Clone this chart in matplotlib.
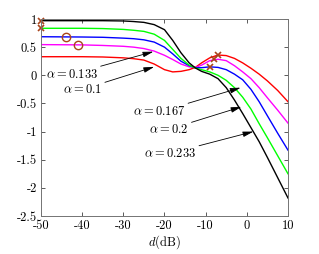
import numpy as np
import matplotlib
matplotlib.use('Agg')
import matplotlib.pyplot as plt

plt.rcParams['font.family'] = 'serif'
plt.rcParams['font.serif'] = ['cmr10']
plt.rcParams['mathtext.fontset'] = 'cm'
plt.rcParams['axes.unicode_minus'] = False
plt.rcParams['axes.formatter.use_mathtext'] = True

# values
d = [-50, -40, -35, -30, -27.5, -25, -22.5, -20, -18, -16, -14, -12.5, -11, -9, -7, -5, -3, -1, 1, 3, 5, 7.5, 10]
alpha_labels = ['0.1', '0.133', '0.167', '0.2', '0.233']
curve_red = [0.33, 0.33, 0.325, 0.31, 0.295, 0.27, 0.20, 0.10, 0.06, 0.07, 0.10, 0.14, 0.22, 0.31, 0.36, 0.35, 0.30, 0.22, 0.125, 0.02, -0.10, -0.27, -0.47]
curve_magenta = [0.545, 0.54, 0.53, 0.515, 0.50, 0.475, 0.43, 0.355, 0.28, 0.20, 0.15, 0.14, 0.18, 0.26, 0.285, 0.26, 0.17, 0.06, -0.06, -0.22, -0.40, -0.62, -0.85]
curve_blue = [0.685, 0.68, 0.675, 0.66, 0.65, 0.63, 0.59, 0.50, 0.38, 0.25, 0.17, 0.135, 0.135, 0.15, 0.14, 0.10, 0.02, -0.08, -0.25, -0.47, -0.72, -1.03, -1.33]
curve_green = [0.835, 0.835, 0.83, 0.815, 0.80, 0.78, 0.73, 0.62, 0.46, 0.30, 0.18, 0.13, 0.10, 0.06, 0.0, -0.09, -0.22, -0.39, -0.60, -0.86, -1.11, -1.43, -1.75]
curve_black = [0.97, 0.97, 0.97, 0.965, 0.955, 0.94, 0.90, 0.81, 0.62, 0.40, 0.22, 0.13, 0.07, 0.02, -0.06, -0.22, -0.44, -0.68, -0.93, -1.18, -1.46, -1.82, -2.18]

cross_x = [-50, -50, -6.9, -7.9, -9.0]
cross_y = [0.97, 0.835, 0.36, 0.285, 0.15]
circle_x = [-44, -41]
circle_y = [0.685, 0.545]

# text positions and arrow tips
label_pos = [(-39.9, -0.25), (-42.5, 0.02), (-21.3, -0.65), (-18.9, -0.96), (-18.6, -1.385)]
arrow_tip = [(-22.5, 0.15), (-22.7, 0.42), (-1.5, -0.22), (-1.3, -0.56), (1.6, -1.0)]

fig = plt.figure(figsize=(3.19, 2.54), dpi=100)
ax = fig.add_axes([0.1285, 0.1496, 0.9028 - 0.1285, 0.9252 - 0.1496])

ax.plot(d, curve_red, color='#ff0000', lw=1.0)
ax.plot(d, curve_magenta, color='#ff00ff', lw=1.0)
ax.plot(d, curve_blue, color='#0000ff', lw=1.0)
ax.plot(d, curve_green, color='#00ff00', lw=1.0)
ax.plot(d, curve_black, color='k', lw=1.0)

mk = '#a8441c'
ax.plot(cross_x, cross_y, 'x', color=mk, ms=5, mew=1.2, clip_on=False)
ax.plot(circle_x, circle_y, 'o', mfc='none', mec=mk, ms=6, mew=1.0)

for lab, pos, tip in zip(alpha_labels, label_pos, arrow_tip):
    ax.annotate(r'$\alpha = %s$' % lab, xy=tip, xytext=pos, fontsize=9,
                ha='center', va='center',
                arrowprops=dict(arrowstyle='-|>,head_length=0.7,head_width=0.18',
                                color='k', lw=0.6, shrinkA=0, shrinkB=0))

ax.set_xlim(-50, 10)
ax.set_ylim(-2.5, 1)
ax.set_xticks([-50, -40, -30, -20, -10, 0, 10])
ax.set_yticks([-2.5, -2, -1.5, -1, -0.5, 0, 0.5, 1])
ax.set_xticklabels(['-50', '-40', '-30', '-20', '-10', '0', '10'])
ax.set_yticklabels(['-2.5', '-2', '-1.5', '-1', '-0.5', '0', '0.5', '1'])
ax.tick_params(direction='in', top=True, right=True, length=3, width=0.6,
               labelsize=9, colors='0.25', labelcolor='k', pad=3)
for s in ax.spines.values():
    s.set_color('0.45')
    s.set_linewidth(0.7)
ax.set_xlabel(r'$d(\mathrm{dB})$', fontsize=9, labelpad=1)

fig.savefig('out.png', dpi=100)
